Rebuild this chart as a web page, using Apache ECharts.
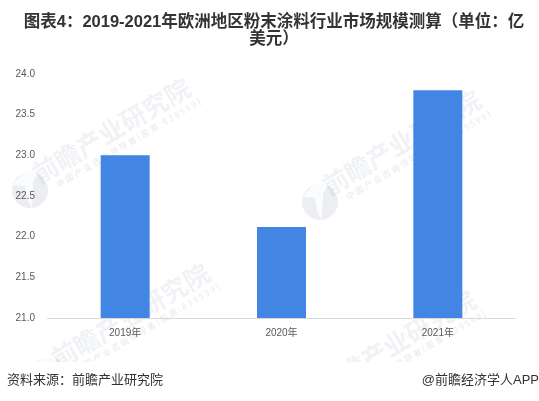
<!DOCTYPE html>
<html lang="zh">
<head>
<meta charset="utf-8">
<title>欧洲地区粉末涂料行业市场规模测算</title>
<style>
    html, body { margin: 0; padding: 0; background: #fff; }
    #main { width: 539px; height: 401px; }
</style>
<script src="https://cdn.jsdelivr.net/npm/echarts@6/dist/echarts.min.js"></script>
</head>
<body>
<div id="main"></div>
<script type="text/javascript">
var titleText = '图表4：2019-2021年欧洲地区粉末涂料行业市场规模测算（单位：亿\n美元）';
var sourceText = '资料来源：前瞻产业研究院';
var brandText = '@前瞻经济学人APP';
var wmMain = '前瞻产业研究院';
var wmSub = '中 国 产 业 咨 询 领 导 者 ( 股 票 : 8 3 9 5 9 9 )';

var years = ['2019年', '2020年', '2021年'];
var sizes = [23.0, 22.12, 23.8];

var cnFont = '"Liberation Sans","Noto Sans CJK SC",sans-serif';
var myChart = echarts.init(document.getElementById('main'));

// 水印：logo + 两行斜字
function watermark(x, y) {
    var rot = 30.6 * Math.PI / 180;
    return {
        type: 'group',
        x: x,
        y: y,
        z: 5,
        children: [
            {
                type: 'circle',
                shape: { cx: 0, cy: 0, r: 18 },
                style: { fill: 'rgba(120,135,160,0.14)' }
            },
            {
                type: 'polygon',
                shape: { points: [[-5, -19], [9, -19], [3, -8], [2, 19], [-3, 8], [-5, -4], [-18, -5]] },
                style: { fill: 'rgba(255,255,255,0.8)' }
            },
            {
                type: 'text',
                x: 11,
                y: -3,
                rotation: rot,
                style: {
                    text: wmMain,
                    font: 'bold 25.5px "Noto Sans CJK SC"',
                    fill: 'rgba(120,135,160,0.11)',
                    textVerticalAlign: 'bottom'
                }
            },
            {
                type: 'text',
                x: 29,
                y: -1,
                rotation: rot,
                style: {
                    text: wmSub,
                    font: '8.5px "Noto Sans CJK SC"',
                    fill: 'rgba(120,135,160,0.2)',
                    textVerticalAlign: 'bottom'
                }
            }
        ]
    };
}

var option = {
    animation: false,
    backgroundColor: '#fff',
    textStyle: { fontFamily: cnFont },
    title: {
        text: titleText,
        left: 269,
        top: 9,
        textAlign: 'center',
        textStyle: {
            fontFamily: cnFont,
            fontSize: 16.5,
            fontWeight: 'bold',
            color: '#333',
            lineHeight: 17
        }
    },
    grid: { left: 47, right: 23, top: 74, bottom: 83 },
    xAxis: {
        type: 'category',
        data: years,
        axisTick: { show: false },
        axisLine: { lineStyle: { color: '#d9d9d9', width: 1 } },
        axisLabel: { color: '#595959', fontSize: 10, margin: 10 }
    },
    yAxis: {
        type: 'value',
        min: 21,
        max: 24,
        interval: 0.5,
        axisLine: { show: false },
        axisTick: { show: false },
        splitLine: { show: false },
        axisLabel: {
            color: '#595959',
            fontSize: 10,
            margin: 12,
            formatter: function (v) { return v.toFixed(1); }
        }
    },
    series: [
        {
            type: 'bar',
            data: sizes,
            barWidth: 49,
            itemStyle: { color: '#4285e2' }
        }
    ],
    graphic: [
        watermark(30, 190),
        watermark(320, 202),
        watermark(49, 375),
        watermark(315, 402),
        // 底部白条盖住水印
        {
            type: 'rect',
            z: 6,
            shape: { x: 0, y: 362, width: 539, height: 39 },
            style: { fill: '#fff' }
        },
        {
            type: 'text',
            z: 7,
            left: 7,
            top: 374,
            style: { text: sourceText, font: '13px ' + cnFont, fill: '#333' }
        },
        {
            type: 'text',
            z: 7,
            right: 0,
            top: 374,
            style: { text: brandText, font: '13px ' + cnFont, fill: '#333' }
        }
    ]
};

myChart.setOption(option);
</script>
</body>
</html>
